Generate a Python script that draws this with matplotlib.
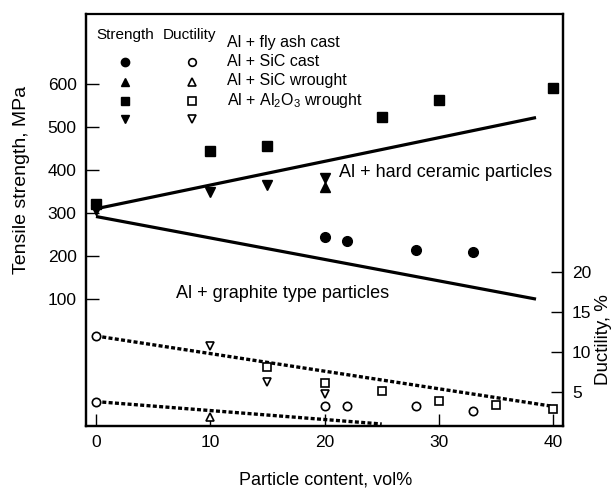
import matplotlib
matplotlib.use("Agg")
import matplotlib.pyplot as plt

# --- data -------------------------------------------------------------
# Tensile strength (MPa), left axis
fly_ash_x = [20, 22, 28, 33]
fly_ash_strength = [244, 235, 214, 209]

sic_cast_x = [20]
sic_cast_strength = [360]

sic_wrought_x = [0, 10, 15, 25, 30, 40]
sic_wrought_strength = [322, 445, 456, 523, 563, 590]

al2o3_x = [0, 10, 15, 20]
al2o3_strength = [306, 350, 365, 381]

# Ductility (%), right axis
fly_ash_duct_x = [0, 0, 20, 22, 28, 33]
fly_ash_ductility = [12.0, 3.8, 3.3, 3.3, 3.3, 2.6]

sic_cast_duct_x = [10]
sic_cast_ductility = [1.9]

sic_wrought_duct_x = [15, 20, 25, 30, 35, 40]
sic_wrought_ductility = [8.1, 6.1, 5.1, 3.9, 3.4, 2.9]

al2o3_duct_x = [10, 15, 20]
al2o3_ductility = [10.7, 6.2, 4.8]

# Trend lines (x pair, y pair)
hard_ceramic_trend = ([0, 38.5], [310, 522])
graphite_trend = ([0, 38.5], [292, 100])
ductility_upper_trend = ([0, 40], [12.0, 3.2])
ductility_lower_trend = ([0, 25], [3.8, 1.0])

strength_ticks = [100, 200, 300, 400, 500, 600]
ductility_ticks = [5, 10, 15, 20]
content_ticks = [0, 10, 20, 30, 40]

legend_rows = ["Al + fly ash cast", "Al + SiC cast", "Al + SiC wrought",
               r"Al + Al$_2$O$_3$ wrought"]

# --- styling ----------------------------------------------------------
family = ["Liberation Sans", "DejaVu Sans"]
plt.rcParams["font.family"] = family
plt.rcParams["mathtext.fontset"] = "custom"
plt.rcParams["mathtext.rm"] = "Liberation Sans"
plt.rcParams["mathtext.it"] = "Liberation Sans"

fig = plt.figure(figsize=(6.16, 4.93), dpi=100)
W, H = 616, 493
left, right, top, bottom = 85.7, 563, 14.3, 426
ax = fig.add_axes([left / W, 1 - bottom / H, (right - left) / W, (bottom - top) / H])
ax2 = ax.twinx()

ax.set_xlim(-0.9, 40.86)
ax.set_ylim(-195, 762)
ax2.set_ylim(0.75, 52.2)

for a in (ax, ax2):
    for s in a.spines.values():
        s.set_linewidth(1.6)
ax2.spines["top"].set_visible(False)

ax.set_xticks(content_ticks)
ax.set_yticks(strength_ticks)
ax2.set_yticks(ductility_ticks)
ax.tick_params(axis="both", direction="in", length=9, width=1.0, pad=6.5,
               labelsize=12.5, right=False, top=False)
ax2.tick_params(axis="y", direction="in", length=9, width=1.0, pad=6.5, labelsize=12.5)

# strength trend lines
ax.plot(*hard_ceramic_trend, color="black", lw=2.3, solid_capstyle="butt")
ax.plot(*graphite_trend, color="black", lw=2.3, solid_capstyle="butt")

# strength markers
ms = 7
ax.plot(fly_ash_x, fly_ash_strength, "o", color="black", ms=ms, ls="none")
ax.plot(sic_cast_x, sic_cast_strength, "^", color="black", ms=ms, ls="none")
ax.plot(sic_wrought_x, sic_wrought_strength, "s", color="black", ms=ms, ls="none")
ax.plot(al2o3_x, al2o3_strength, "v", color="black", ms=ms, ls="none")

# ductility trend lines
dot_style = dict(color="black", lw=2.4, ls=(0, (1.2, 0.7)))
ax2.plot(*ductility_upper_trend, **dot_style)
ax2.plot(*ductility_lower_trend, **dot_style)

# ductility markers
om = dict(mfc="white", mec="black", mew=1.2, ms=6, ls="none", color="black")
ax2.plot(fly_ash_duct_x, fly_ash_ductility, "o", **om)
ax2.plot(sic_cast_duct_x, sic_cast_ductility, "^", **om)
ax2.plot(sic_wrought_duct_x, sic_wrought_ductility, "s", **om)
ax2.plot(al2o3_duct_x, al2o3_ductility, "v", **om)

# in-plot annotations
ax.text(30.6, 395, "Al + hard ceramic particles", fontsize=13,
        ha="center", va="center")
ax.text(16.3, 114, "Al + graphite type particles", fontsize=13,
        ha="center", va="center")

# key
def fx(px):
    return (px - left) / (right - left)

def fy(py):
    return (bottom - py) / (bottom - top)

T = ax.transAxes
ax.text(fx(125), fy(35), "Strength", transform=T, fontsize=11, ha="center", va="center")
ax.text(fx(190), fy(35), "Ductility", transform=T, fontsize=11, ha="center", va="center")
key_markers = ["o", "^", "s", "v"]
marker_rows = [62, 82, 101, 119]
label_rows = [43, 62, 81, 100]
for m, my, ly, lab in zip(key_markers, marker_rows, label_rows, legend_rows):
    ax.plot([fx(125)], [fy(my)], m, color="black", ms=6, transform=T, clip_on=False)
    ax.plot([fx(192)], [fy(my)], m, mfc="white", mec="black", mew=1.2, ms=5.5,
            transform=T, clip_on=False)
    ax.text(fx(227), fy(ly), lab, transform=T, fontsize=11.5, ha="left", va="center")

# axis titles
fig.text(22 / W, 1 - 180 / H, "Tensile strength, MPa", rotation=90, fontsize=14,
         ha="center", va="center")
fig.text(326 / W, 1 - 480 / H, "Particle content, vol%", fontsize=13,
         ha="center", va="center")
fig.text(603 / W, 1 - 340 / H, "Ductility, %", rotation=90, fontsize=13.5,
         ha="center", va="center")

fig.savefig("out.png", dpi=100)
